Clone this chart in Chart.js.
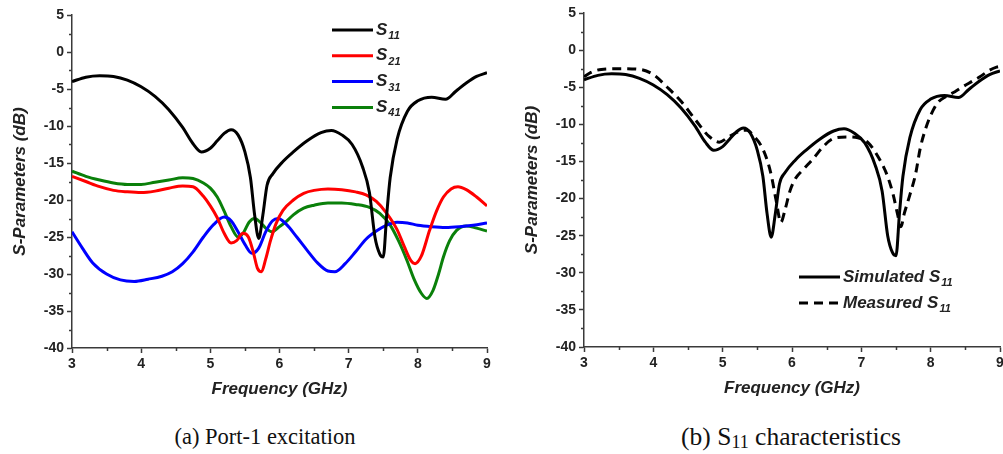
<!DOCTYPE html>
<html>
<head>
<meta charset="utf-8">
<script src="https://cdn.jsdelivr.net/npm/chart.js@4.4.0/dist/chart.umd.min.js"></script>
<style>
  html, body { margin: 0; padding: 0; background: #fff; overflow: hidden; width: 1003px; height: 454px; }
  canvas { position: absolute; top: 0; }
  #chartA { left: 0; }
  #chartB { left: 500px; }
  .caption { position: absolute; top: 422px; height: 30px; line-height: 30px; font-family: "Liberation Serif", "Times New Roman", serif; color: #111; text-align: center; white-space: nowrap; }
  .caption sub { font-size: 18px; vertical-align: -3px; line-height: 0; }
</style>
</head>
<body>
<canvas id="chartA" width="500" height="420"></canvas>
<canvas id="chartB" width="520" height="420"></canvas>
<div class="caption" style="left:145px;width:240px;font-size:22.5px;">(a) Port-1 excitation</div>
<div class="caption" style="left:641px;width:300px;font-size:25.5px;">(b) S<sub>11</sub> characteristics</div>
<script>
// frequency axis (GHz) and dB axis
const xMin = 3, xMax = 9, xStep = 1;
const yMin = -40, yMax = 5, yStep = 5;

// S11 (also the simulated curve on the right)
const freqS11 = [3.0, 3.2, 3.4, 3.6, 3.8, 4.0, 4.2, 4.4, 4.6, 4.75, 4.87, 5.0, 5.1, 5.2, 5.3, 5.4, 5.5, 5.58, 5.64, 5.7,
  5.76, 5.82, 5.9, 6.05, 6.2, 6.4, 6.6, 6.75, 6.9, 7.05, 7.2, 7.3, 7.38, 7.45, 7.5, 7.55, 7.6, 7.7, 7.85, 8.0,
  8.2, 8.4, 8.55, 8.7, 8.85, 9.0];
const s11 = [-4.0, -3.4, -3.2, -3.3, -3.8, -4.7, -6.0, -7.8, -10.2, -12.4, -13.5, -13.0, -12.0, -11.0, -10.5, -11.2, -13.5, -17, -22, -25.2,
  -22, -18, -16.5, -14.8, -13.5, -12.0, -10.9, -10.6, -11.2, -12.5, -15.5, -19, -25, -27.3, -27.7, -22, -17, -11.8, -8, -6.6,
  -6.1, -6.4, -5.3, -4.2, -3.3, -2.8];

const freqS21 = [3.0, 3.2, 3.4, 3.6, 3.8, 4.0, 4.2, 4.4, 4.6, 4.75, 4.9, 5.0, 5.1, 5.2, 5.3, 5.38, 5.47, 5.55, 5.62, 5.68,
  5.74, 5.8, 5.87, 5.95, 6.05, 6.2, 6.35, 6.5, 6.7, 6.9, 7.1, 7.25, 7.4, 7.55, 7.7, 7.8, 7.9, 7.96, 8.05, 8.17,
  8.27, 8.37, 8.48, 8.58, 8.7, 8.85, 9.0];
const s21 = [-16.8, -17.5, -18.2, -18.7, -18.9, -19.0, -18.8, -18.4, -18.1, -18.2, -19.5, -20.8, -22.4, -24.5, -25.8, -25.5, -24.5, -25, -27, -29.2,
  -29.7, -28, -25.5, -23.2, -21.4, -20, -19.1, -18.7, -18.5, -18.6, -18.9, -19.3, -20.2, -21.8, -24, -26.2, -28.2, -28.6, -27.6, -24.1,
  -21.5, -19.6, -18.5, -18.2, -18.6, -19.6, -20.8];

const freqS31 = [3.0, 3.15, 3.3, 3.5, 3.7, 3.9, 4.1, 4.3, 4.45, 4.6, 4.75, 4.9, 5.05, 5.2, 5.3, 5.4, 5.5, 5.6, 5.7, 5.8,
  5.9, 5.98, 6.1, 6.25, 6.4, 6.55, 6.7, 6.8, 6.95, 7.1, 7.25, 7.4, 7.55, 7.7, 7.85, 8.0, 8.2, 8.4, 8.6, 8.8, 9.0];
const s31 = [-24.3, -26.5, -28.5, -30.0, -30.8, -31.0, -30.7, -30.3, -29.7, -28.6, -27.0, -25.0, -23.3, -22.3, -22.8, -24.3, -26.0, -27.2, -26.5, -24.3,
  -22.8, -22.5, -23.3, -25, -26.8, -28.5, -29.6, -29.7, -28.6, -27, -25.3, -24.2, -23.4, -23, -23.1, -23.4, -23.6, -23.7, -23.6, -23.4, -23.1];

const freqS41 = [3.0, 3.2, 3.4, 3.6, 3.8, 4.0, 4.2, 4.4, 4.6, 4.75, 4.9, 5.0, 5.1, 5.2, 5.3, 5.4, 5.48, 5.56, 5.64, 5.72,
  5.8, 5.89, 6.0, 6.1, 6.2, 6.35, 6.5, 6.7, 6.9, 7.1, 7.3, 7.45, 7.6, 7.72, 7.84, 7.95, 8.05, 8.13, 8.22, 8.3,
  8.37, 8.46, 8.56, 8.7, 8.85, 9.0];
const s41 = [-16.1, -16.8, -17.3, -17.7, -17.9, -17.9, -17.6, -17.3, -17.0, -17.1, -17.7, -18.4, -19.6, -21.5, -23.6, -25.0, -24.4, -23.0, -22.5, -23.0,
  -23.8, -24.3, -23.6, -22.9, -22.0, -21.1, -20.7, -20.4, -20.4, -20.6, -21.0, -21.8, -23.4, -25.5, -28.1, -30.8, -32.6, -33.3, -32.2, -30,
  -27.7, -25.5, -24.1, -23.5, -23.8, -24.2];

// measured S11
const freqMeas = [3.0, 3.1, 3.25, 3.5, 3.8, 4.0, 4.2, 4.4, 4.6, 4.8, 4.95, 5.1, 5.25, 5.35, 5.45, 5.55, 5.63, 5.7, 5.77, 5.84,
  5.9, 5.97, 6.05, 6.15, 6.3, 6.45, 6.6, 6.8, 6.95, 7.1, 7.25, 7.37, 7.46, 7.52, 7.57, 7.62, 7.7, 7.78, 7.85, 7.92,
  8.0, 8.1, 8.23, 8.35, 8.47, 8.6, 8.71, 8.85, 8.95, 9.0];
const meas = [-3.6, -3.0, -2.6, -2.5, -2.6, -3.3, -5.0, -6.9, -9.3, -11.6, -12.4, -11.6, -10.9, -10.8, -11.6, -12.8, -14.5, -16.8, -20.2, -23.2,
  -21.5, -19, -17.3, -16.2, -14.7, -13.0, -11.9, -11.7, -11.8, -12.5, -14.5, -16.8, -19.5, -22, -23.8, -22, -19.5, -16.8, -13.2, -10.8,
  -8.8, -7.1, -6.2, -5.6, -4.9, -4.2, -3.6, -2.7, -2.3, -2.2];

const toPoints = (xs, ys) => xs.map((x, i) => ({ x: x, y: ys[i] }));

const axisColor = '#3a3a3a';
const textColor = '#222';
const family = '"Liberation Sans", Arial, sans-serif';

// short minor ticks halfway between the major ones
const minorTicks = {
  id: 'minorTicks',
  afterDraw(chart) {
    const { ctx, scales: { x, y } } = chart;
    ctx.save();
    ctx.strokeStyle = axisColor;
    ctx.lineWidth = 1.5;
    ctx.beginPath();
    for (let v = xMin + xStep / 2; v < xMax; v += xStep) {
      const px = Math.round(x.getPixelForValue(v)) + 0.5;
      ctx.moveTo(px, x.top);
      ctx.lineTo(px, x.top + 3);
    }
    for (let v = yMin + yStep / 2; v < yMax; v += yStep) {
      const py = Math.round(y.getPixelForValue(v)) + 0.5;
      ctx.moveTo(y.right, py);
      ctx.lineTo(y.right - 3, py);
    }
    ctx.stroke();
    ctx.restore();
  }
};

// legend with subscripted port numbers, e.g. "S11" -> S + small 11
const subLegend = {
  id: 'subLegend',
  afterDraw(chart, args, opts) {
    const { ctx } = chart;
    ctx.save();
    chart.data.datasets.forEach((ds, i) => {
      const y = opts.y + i * opts.gap;
      ctx.strokeStyle = ds.borderColor;
      ctx.lineWidth = ds.borderWidth;
      ctx.setLineDash(ds.borderDash || []);
      ctx.beginPath();
      ctx.moveTo(opts.x, y);
      ctx.lineTo(opts.x + opts.len, y);
      ctx.stroke();
      ctx.setLineDash([]);
      const m = ds.label.match(/^(.*?)(\d+)$/);
      ctx.fillStyle = textColor;
      ctx.textBaseline = 'middle';
      ctx.font = 'italic bold 17px ' + family;
      const tx = opts.x + opts.len + 3;
      ctx.fillText(m[1], tx, y);
      const w = ctx.measureText(m[1]).width;
      ctx.font = 'italic bold 11px ' + family;
      ctx.fillText(m[2], tx + w + 1, y + 6);
    });
    ctx.restore();
  }
};

function axes() {
  const tickFont = { family: family, size: 14, weight: 'bold' };
  const titleFont = { family: family, size: 17, weight: 'bold', style: 'italic' };
  const grid = { drawOnChartArea: false, drawTicks: true, tickLength: 5, tickColor: axisColor, tickWidth: 1.5 };
  const border = { color: axisColor, width: 1.5 };
  return {
    x: {
      type: 'linear', min: xMin, max: xMax,
      ticks: { stepSize: xStep, font: tickFont, color: textColor, padding: 3, maxRotation: 0 },
      grid: grid, border: border,
      title: { display: true, text: 'Frequency (GHz)', font: titleFont, color: textColor, padding: { top: 0, bottom: 0 } },
      afterFit: s => { s.height = 52; }
    },
    y: {
      min: yMin, max: yMax,
      ticks: { stepSize: yStep, font: tickFont, color: textColor, padding: 3 },
      grid: grid, border: border,
      title: { display: true, text: 'S-Parameters (dB)', font: titleFont, color: textColor, padding: { top: 10, bottom: 0 } },
      afterFit: s => { s.width = 72; }
    }
  };
}

function line(label, xs, ys, color, dash) {
  return {
    label: label,
    data: toPoints(xs, ys),
    borderColor: color,
    borderWidth: 3,
    borderDash: dash || [],
    pointRadius: 0,
    cubicInterpolationMode: 'monotone',
    fill: false
  };
}

new Chart(document.getElementById('chartA'), {
  type: 'line',
  data: {
    datasets: [
      line('S11', freqS11, s11, '#000000'),
      line('S21', freqS21, s21, '#ff0000'),
      line('S31', freqS31, s31, '#0000ff'),
      line('S41', freqS41, s41, '#0a800a')
    ]
  },
  options: {
    responsive: false,
    animation: false,
    layout: { padding: { left: 0, top: 15, right: 13, bottom: 20 } },
    scales: axes(),
    plugins: {
      legend: { display: false },
      tooltip: { enabled: false },
      subLegend: { x: 332, y: 30, gap: 25.8, len: 41 }
    }
  },
  plugins: [minorTicks, subLegend]
});

new Chart(document.getElementById('chartB'), {
  type: 'line',
  data: {
    datasets: [
      line('Simulated S11', freqS11, s11, '#000000'),
      line('Measured S11', freqMeas, meas, '#000000', [9, 6])
    ]
  },
  options: {
    responsive: false,
    animation: false,
    layout: { padding: { left: 12, top: 13, right: 20, bottom: 21 } },
    scales: axes(),
    plugins: {
      legend: { display: false },
      tooltip: { enabled: false },
      subLegend: { x: 299, y: 277, gap: 26, len: 41 }
    }
  },
  plugins: [minorTicks, subLegend]
});
</script>
</body>
</html>
